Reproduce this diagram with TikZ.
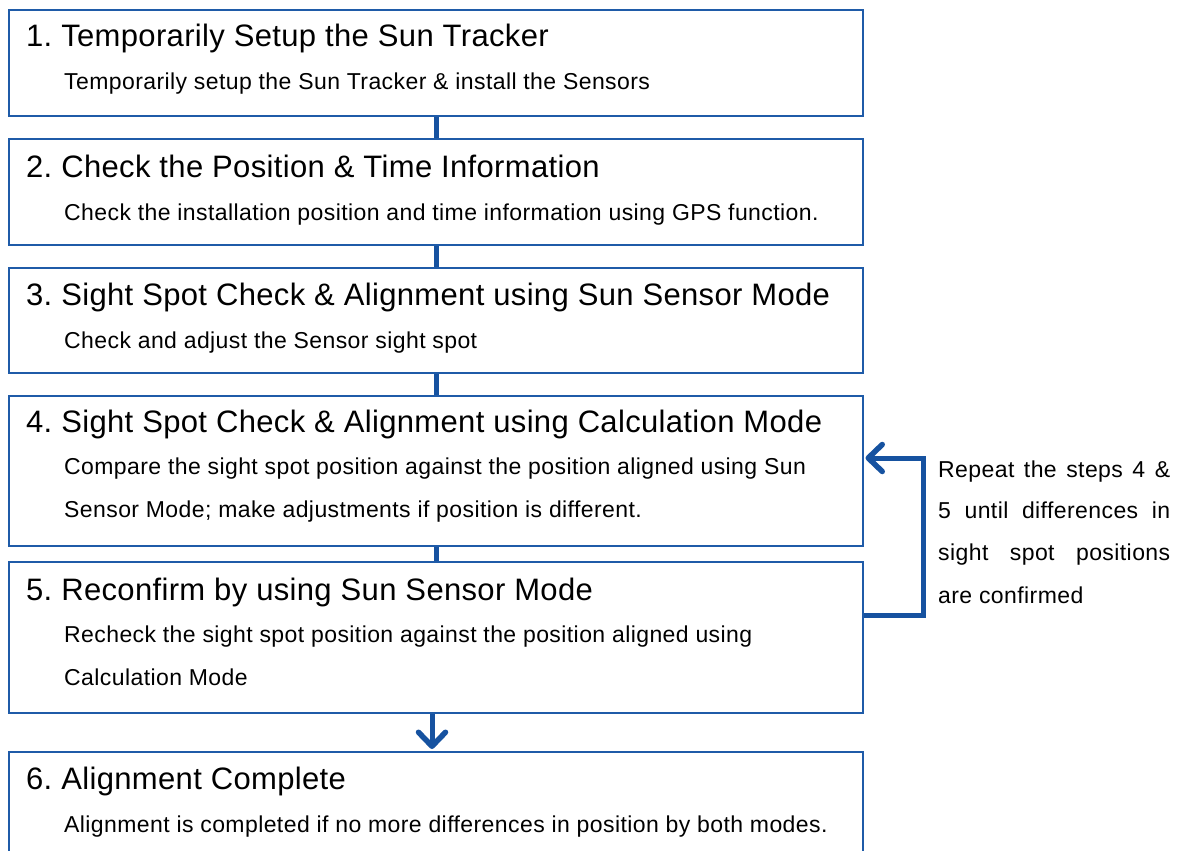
\documentclass[tikz,border=0pt]{standalone}
\usepackage{fontspec}
\setmainfont{Liberation Sans}
\newfontfamily\ttlfont[LetterSpace=1.1]{Liberation Sans}
\newfontfamily\subfont[LetterSpace=1.8]{Liberation Sans}
\usetikzlibrary{arrows.meta}
\definecolor{boxblue}{RGB}{31,91,168}
\definecolor{connblue}{RGB}{22,82,160}
\tikzset{
  stepbox/.style={draw=boxblue, line width=2pt, rectangle, minimum width=854pt, inner sep=0pt, fill=white},
  ttl/.style={anchor=base west, inner sep=0pt, font=\ttlfont\fontsize{31}{36}\selectfont},
  sub/.style={anchor=base west, inner sep=0pt, font=\subfont\fontsize{23}{27}\selectfont},
  side/.style={anchor=base west, inner sep=0pt, font=\subfont\fontsize{23}{27}\selectfont},
  conn/.style={draw=connblue, line width=5pt},
  barb/.style={-{Straight Barb[length=14pt,width=27pt,line width=5.5pt,round]}},
}
\begin{document}
\begin{tikzpicture}[x=1pt,y=-1pt]
\useasboundingbox (0,0) rectangle (1184,851);
\clip (0,0) rectangle (1184,851);
\node[stepbox, minimum height=106pt] (b1) at (436,63) {};
\node[stepbox, minimum height=106pt] (b2) at (436,192) {};
\node[stepbox, minimum height=105pt] (b3) at (436,320.5) {};
\node[stepbox, minimum height=150pt] (b4) at (436,471) {};
\node[stepbox, minimum height=151pt] (b5) at (436,637.5) {};
\node[stepbox, minimum height=140pt] (b6) at (436,822) {};

\draw[conn] (b1.south) -- (b2.north);
\draw[conn] (b2.south) -- (b3.north);
\draw[conn] (b3.south) -- (b4.north);
\draw[conn] (b4.south) -- (b5.north);
\draw[conn,barb] ([xshift=-4pt]b5.south) -- ([xshift=-4pt,yshift=2pt]b6.north);
\draw[conn,barb,line join=miter] ([yshift=22.5pt]b5.east) -- ++(59,0) |- ([xshift=1.5pt,yshift=13pt]b4.east);

\node[ttl] (t1) at (26,47) {1.\ Temporarily Setup the Sun Tracker};
\node[sub] (s1) at (64,90) {Temporarily setup the Sun Tracker \& install the Sensors};

\node[ttl] (t2) at (26,177) {2.\ Check the Position \& Time Information};
\node[sub] (s2) at (64,220) {Check the installation position and time information using GPS function.};

\node[ttl] (t3) at (26,305) {3.\ Sight Spot Check \& Alignment using Sun Sensor Mode};
\node[sub] (s3) at (64,348) {Check and adjust the Sensor sight spot};

\node[ttl] (t4) at (26,432) {4.\ Sight Spot Check \& Alignment using Calculation Mode};
\node[sub] (s4a) at (64,474) {Compare the sight spot position against the position aligned using Sun};
\node[sub] (s4b) at (64,517) {Sensor Mode; make adjustments if position is different.};

\node[ttl] (t5) at (26,600) {5.\ Reconfirm by using Sun Sensor Mode};
\node[sub] (s5a) at (64,642) {Recheck the sight spot position against the position aligned using};
\node[sub] (s5b) at (64,685) {Calculation Mode};

\node[ttl] (t6) at (26,789) {6.\ Alignment Complete};
\node[sub] (s6) at (64,832) {Alignment is completed if no more differences in position by both modes.};

\node[side] (r1) at (938,477) {\makebox[232pt][s]{Repeat the steps 4 \&}};
\node[side] (r2) at (938,518) {\makebox[232pt][s]{5 until differences in}};
\node[side] (r3) at (938,560) {\makebox[232pt][s]{sight spot positions}};
\node[side] (r4) at (938,603) {are confirmed};
\end{tikzpicture}
\end{document}
